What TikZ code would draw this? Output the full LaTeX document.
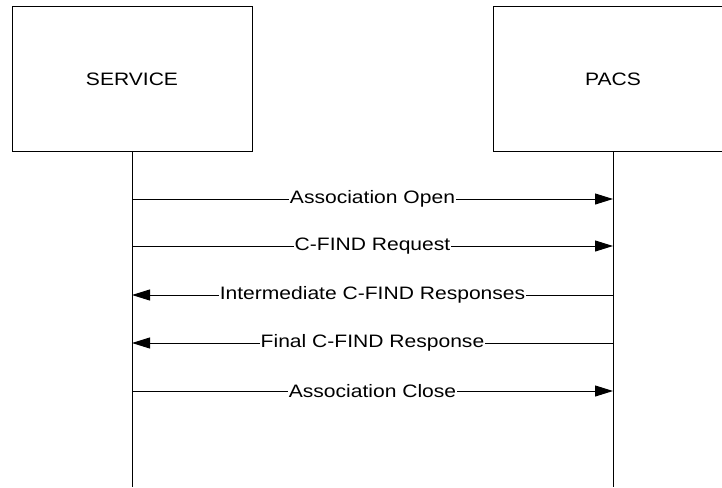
\documentclass[tikz,border=0pt]{standalone}
\usepackage{fontspec}
\setmainfont{Liberation Sans}[FakeStretch=1.17]
\usetikzlibrary{arrows.meta}

\begin{document}
\begin{tikzpicture}[x=1pt,y=-1pt,
	actor/.style={
		draw,
		line width=1pt,
		minimum width=240pt,
		minimum height=144pt,
		font=\fontsize{18}{20}\selectfont
	},
	msg/.style={
		line width=1pt,
		-{Triangle[length=18pt,width=11pt]}
	},
	lbl/.style={
		fill=white,
		inner sep=1pt,
		font=\fontsize{18}{20}\selectfont
	}]

	\clip[use as bounding box] (0,0) rectangle (722,487);

	\node[actor] (service) at (132,79) {SERVICE};
	\node[actor] (pacs) at (613,79) {PACS};

	\coordinate (s0) at (132,487);
	\coordinate (p0) at (613,487);
	\draw[line width=1pt] (service.south) -- (s0);
	\draw[line width=1pt] (pacs.south) -- (p0);

	\coordinate (s1) at (132,199);
	\coordinate (p1) at (613,199);
	\coordinate (s2) at (132,246);
	\coordinate (p2) at (613,246);
	\coordinate (s3) at (132,295);
	\coordinate (p3) at (613,295);
	\coordinate (s4) at (132,343);
	\coordinate (p4) at (613,343);
	\coordinate (s5) at (132,391);
	\coordinate (p5) at (613,391);

	\draw[msg] (s1) -- node[lbl] {Association Open} (p1);
	\draw[msg] (s2) -- node[lbl] {C-FIND Request} (p2);
	\draw[msg] (p3) -- node[lbl] {Intermediate C-FIND Responses} (s3);
	\draw[msg] (p4) -- node[lbl] {Final C-FIND Response} (s4);
	\draw[msg] (s5) -- node[lbl] {Association Close} (p5);
\end{tikzpicture}
\end{document}
